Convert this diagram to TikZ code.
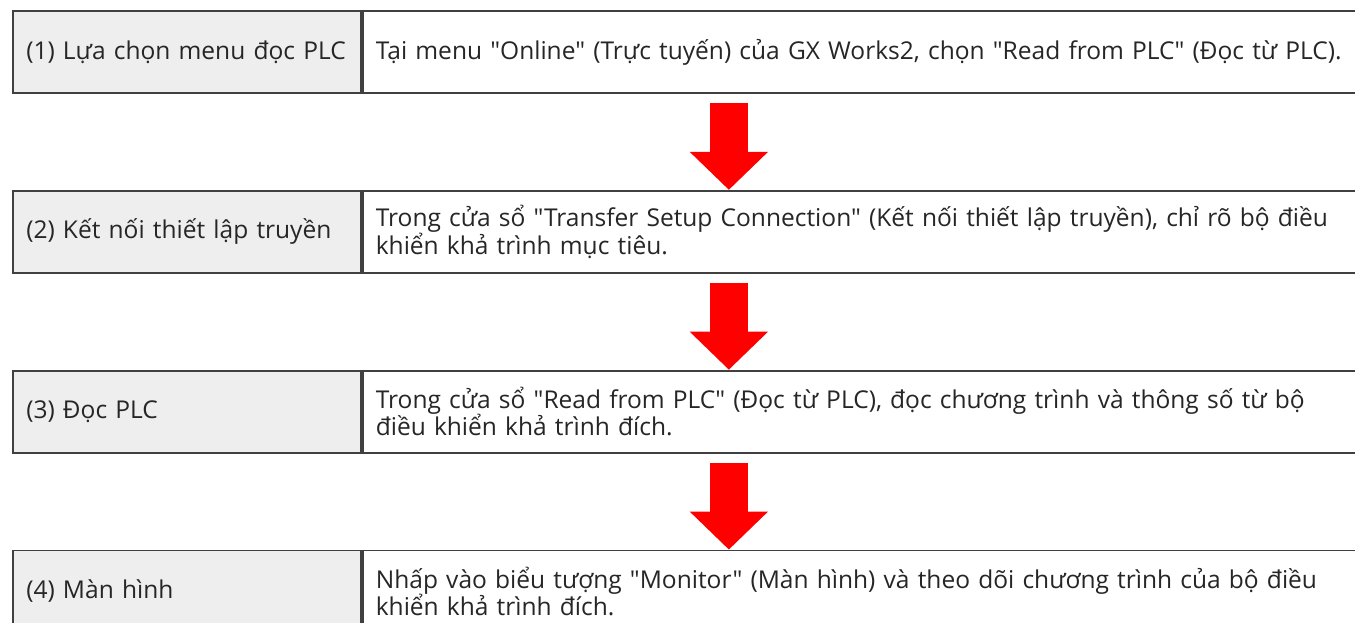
\documentclass[tikz,border=0pt]{standalone}
\usepackage{fontspec}
\setmainfont{Open Sans}[Ligatures=TeXOff]
\usetikzlibrary{positioning,arrows.meta}
\definecolor{cellgray}{RGB}{238,238,238}
\tikzset{
  cell/.style={draw=black!75, line width=1.4pt, minimum height=61.5pt, inner ysep=0pt,
    align=left, text=black!85, font=\fontsize{18.4}{20.5}\selectfont},
  lblcell/.style={cell, fill=cellgray, text width=241pt, inner xsep=10pt},
  desccell/.style={cell, fill=white, text width=738pt, inner xsep=9.75pt},
  flowarrow/.style={draw=red, line width=28.5pt, -{Triangle[width=57pt, length=28.5pt]}}
}
\begin{document}
\begin{tikzpicture}
  \useasboundingbox (0,0) rectangle (1016.25pt,-467.25pt);
  \node[lblcell, anchor=north west] (lbl1) at (9pt,-7.5pt) {(1) Lựa chọn menu đọc PLC};
  \node[desccell, right=0pt of lbl1] (desc1) {Tại menu "Online" (Trực tuyến) của GX Works2, chọn "Read from PLC" (Đọc từ PLC).};
  \node[lblcell, below=72pt of lbl1] (lbl2) {(2) Kết nối thiết lập truyền};
  \node[desccell, right=0pt of lbl2] (desc2) {Trong cửa sổ "Transfer Setup Connection" (Kết nối thiết lập truyền), chỉ rõ bộ điều\\khiển khả trình mục tiêu.};
  \node[lblcell, below=72pt of lbl2] (lbl3) {(3) Đọc PLC};
  \node[desccell, right=0pt of lbl3] (desc3) {Trong cửa sổ "Read from PLC" (Đọc từ PLC), đọc chương trình và thông số từ bộ\\điều khiển khả trình đích.};
  \node[lblcell, below=72pt of lbl3] (lbl4) {(4) Màn hình};
  \node[desccell, right=0pt of lbl4] (desc4) {Nhấp vào biểu tượng "Monitor" (Màn hình) và theo dõi chương trình của bộ điều\\khiển khả trình đích.};
  \foreach \a/\b in {desc1/desc2, desc2/desc3, desc3/desc4}
    \draw[flowarrow] ([xshift=275.25pt, yshift=-6.75pt]\a.south west) -- ([xshift=275.25pt]\b.north west);
\end{tikzpicture}
\end{document}
